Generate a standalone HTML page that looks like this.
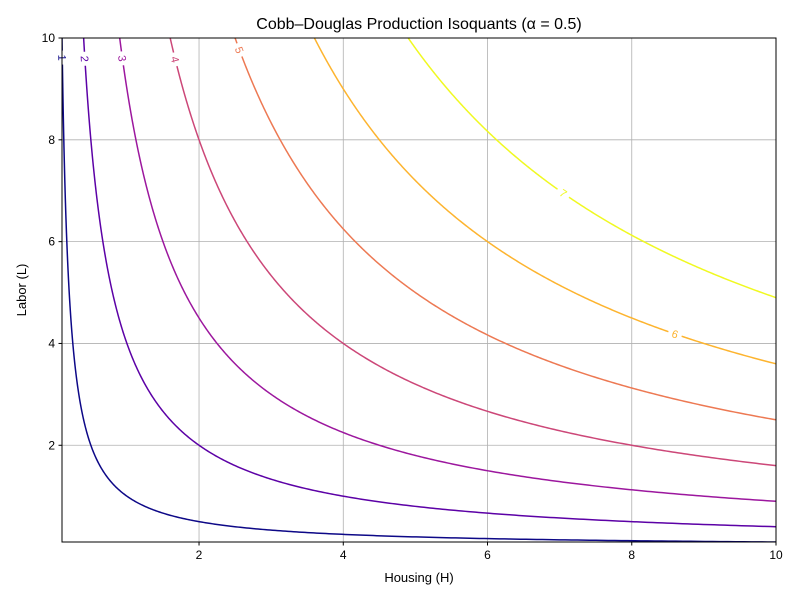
<!DOCTYPE html>
<html><head><meta charset="utf-8"><style>
body{margin:0;background:#fff}
svg{font-family:"Liberation Sans","DejaVu Sans",sans-serif}
</style></head><body>
<svg id="chart" width="800" height="600">
<defs><clipPath id="clip"><rect x="62" y="38" width="714" height="504"/></clipPath></defs>
<rect x="0" y="0" width="800" height="600" fill="#fff"/>
<g id="grid"></g>
<g id="curves" clip-path="url(#clip)"></g>
<g id="labels"></g>
<rect x="62" y="38" width="714" height="504" fill="none" stroke="#000" stroke-width="1"/>
<g id="axes"></g>
<text x="419" y="29" text-anchor="middle" font-size="16">Cobb–Douglas Production Isoquants (α = 0.5)</text>
<text x="419" y="582" text-anchor="middle" font-size="13">Housing (H)</text>
<text x="26" y="290" text-anchor="middle" font-size="13" transform="rotate(-90 26 290)">Labor (L)</text>
</svg>
<script>
const levels=[1,2,3,4,5,6,7];
const colors=["#0d0887","#5c01a6","#9c179e","#cc4778","#ed7953","#fdb42f","#f0f921"];
const labelH=[0.104,0.417,0.9375,1.67,2.56,8.6,7.05];
const xTicks=[2,4,6,8,10];
const yTicks=[2,4,6,8,10];
const alpha=0.5;
const xMin=0.1,xMax=10,yMin=0.1,yMax=10;
const px0=62,px1=776,py0=542,py1=38;
const NS="http://www.w3.org/2000/svg";
function sx(v){return px0+(v-xMin)/(xMax-xMin)*(px1-px0);}
function sy(v){return py0-(v-yMin)/(yMax-yMin)*(py0-py1);}
function Lof(q,h){return Math.pow(q/Math.pow(h,alpha),1/(1-alpha));}
function mk(tag,attrs,parent){const e=document.createElementNS(NS,tag);for(const k in attrs)e.setAttribute(k,attrs[k]);parent.appendChild(e);return e;}
const grid=document.getElementById('grid'),axes=document.getElementById('axes');
xTicks.forEach(t=>{
  const l=mk('line',{x1:sx(t),x2:sx(t),y1:py1,y2:py0,stroke:'#b0b0b0','stroke-width':0.8},grid);
  
  
  const tk=mk('line',{x1:sx(t),x2:sx(t),y1:py0,y2:py0+3.5,stroke:'#000'},axes);
  
  
  const tx=mk('text',{x:sx(t),y:py0+17,'text-anchor':'middle','font-size':12},axes);
  tx.textContent=t;
  
  
});
yTicks.forEach(t=>{
  const l=mk('line',{x1:px0,x2:px1,y1:sy(t),y2:sy(t),stroke:'#b0b0b0','stroke-width':0.8},grid);
  
  
  const tk=mk('line',{x1:px0-3.5,x2:px0,y1:sy(t),y2:sy(t),stroke:'#000'},axes);
  
  
  const tx=mk('text',{x:px0-7,y:sy(t)+4,'text-anchor':'end','font-size':12},axes);
  tx.textContent=t;
  
  
});
const curves=document.getElementById('curves'),labs=document.getElementById('labels');
levels.forEach((q,i)=>{
  const hs=Math.max(xMin,Lof(q,1)>0?Math.pow(q,1/alpha)/Math.pow(yMax*1.05,(1-alpha)/alpha):xMin);
  let d='';const N=400;
  for(let k=0;k<=N;k++){
    const h=hs*Math.pow(xMax/hs,k/N);
    d+=(k?'L':'M')+sx(h).toFixed(2)+','+sy(Lof(q,h)).toFixed(2);
  }
  const p=mk('path',{d:d,fill:'none',stroke:colors[i],'stroke-width':1.5},curves);
  
  
  const h=labelH[i],L=Lof(q,h);
  const x=sx(h),y=sy(L);
  const dh=h*0.01;
  const ang=Math.atan2(sy(Lof(q,h+dh))-y,sx(h+dh)-x)*180/Math.PI;
  const g=mk('g',{transform:`translate(${x},${y}) rotate(${ang})`},labs);
  
  
  mk('rect',{x:-7,y:-6,width:14,height:12,fill:'#fff'},g);
  const t=mk('text',{x:0,y:4,'text-anchor':'middle','font-size':11,fill:colors[i]},g);
  t.textContent=q;
});
</script>
</body></html>
